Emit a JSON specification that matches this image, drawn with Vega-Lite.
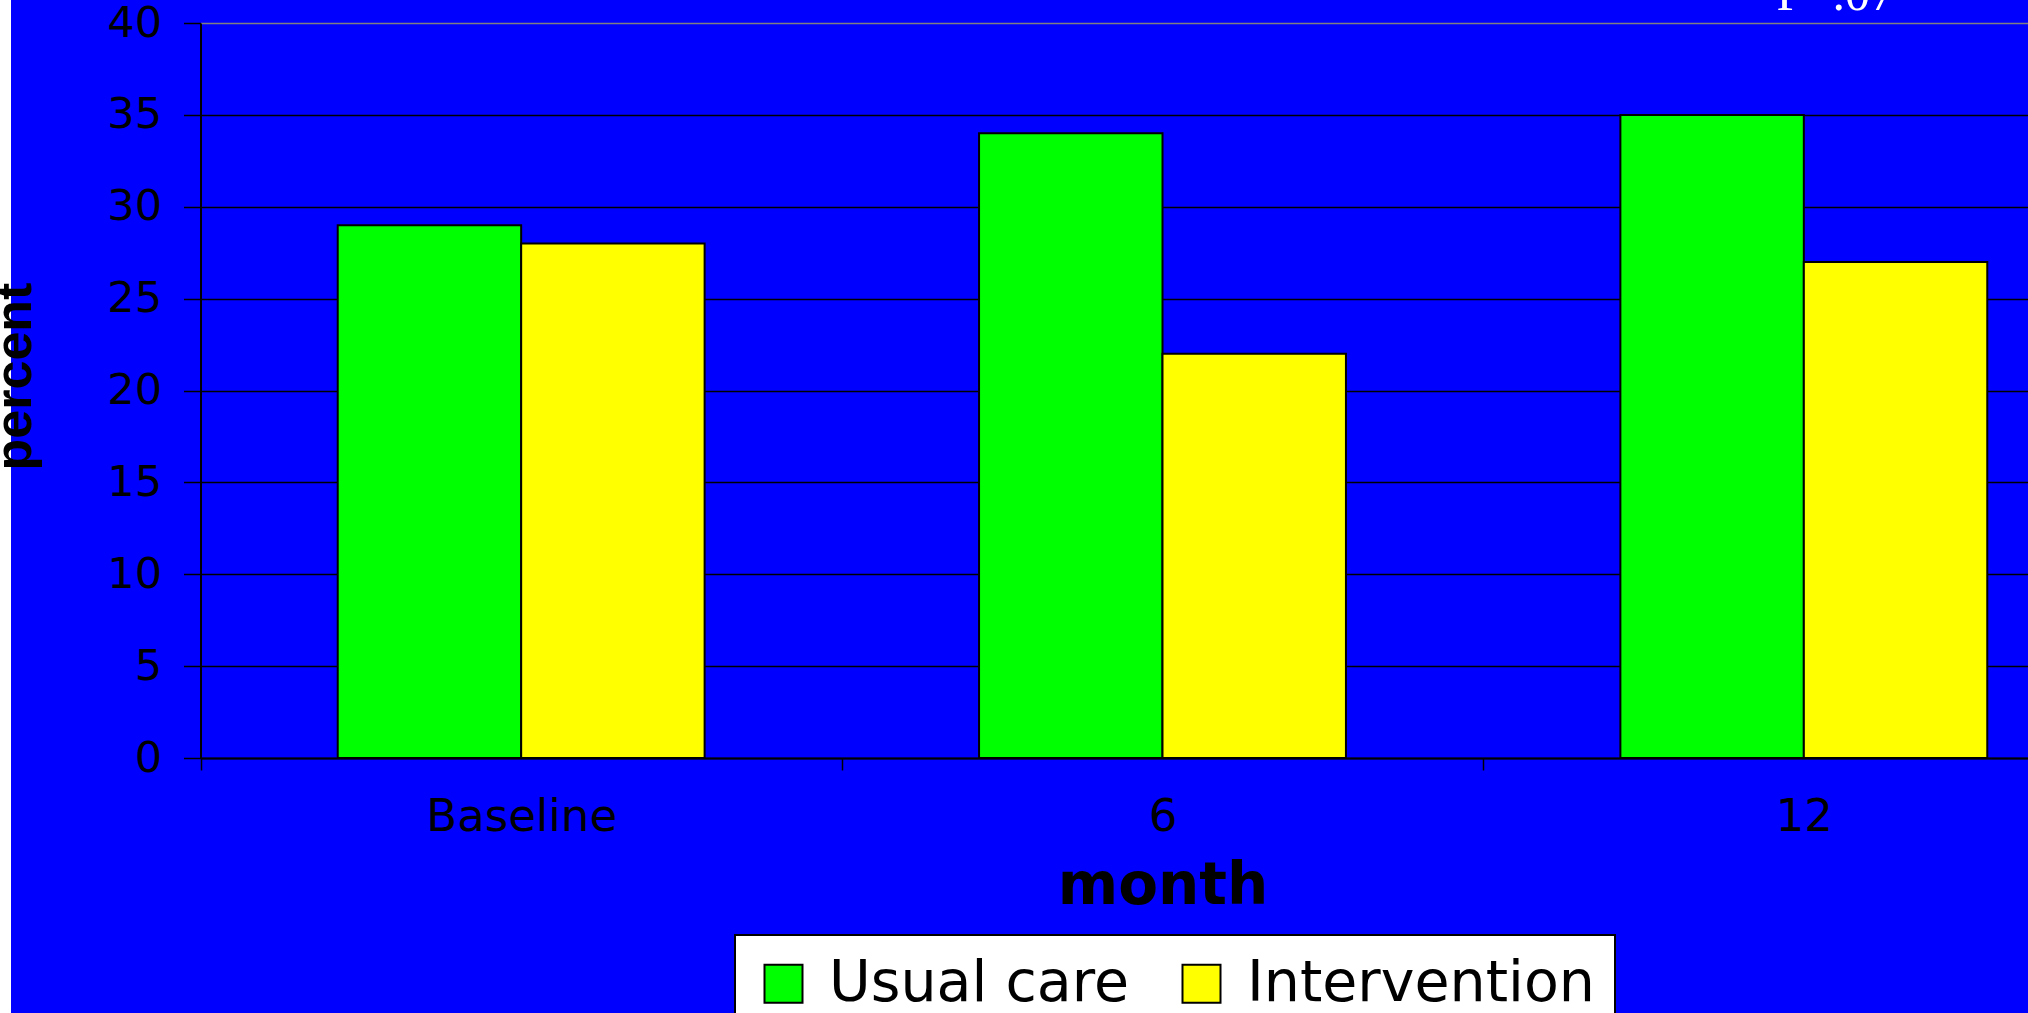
{
  "$schema": "https://vega.github.io/schema/vega-lite/v6.json",
  "autosize": {"type": "none"},
  "padding": {"left": 11, "top": 0, "right": 0, "bottom": 0},
  "width": 2017,
  "height": 1013,
  "background": "white",
  "title": {
    "text": "P=.07",
    "anchor": "end",
    "frame": "group",
    "orient": "top",
    "baseline": "alphabetic",
    "offset": -60,
    "dx": -133,
    "font": "Liberation Serif",
    "fontSize": 50,
    "fontWeight": "normal",
    "color": "white"
  },
  "data": {
    "values": [
      {"month": "Baseline", "group": "Usual care", "value": 29},
      {"month": "Baseline", "group": "Intervention", "value": 28},
      {"month": "6", "group": "Usual care", "value": 34},
      {"month": "6", "group": "Intervention", "value": 22},
      {"month": "12", "group": "Usual care", "value": 35},
      {"month": "12", "group": "Intervention", "value": 27}
    ]
  },
  "mark": {"type": "bar", "stroke": "black", "strokeWidth": 2, "opacity": 1},
  "encoding": {
    "x": {
      "field": "month",
      "type": "nominal",
      "sort": ["Baseline", "6", "12"],
      "scale": {"range": [189.5, 2113.5], "paddingInner": 0, "paddingOuter": 0},
      "axis": {
        "orient": "bottom",
        "offset": -255,
        "title": "month",
        "titleFont": "DejaVu Sans",
        "titleFontSize": 58,
        "titleFontWeight": "bold",
        "titleColor": "black",
        "titleBaseline": "alphabetic",
        "titleY": 145,
        "titleLimit": 2000,
        "labelAngle": 0,
        "labelFont": "DejaVu Sans",
        "labelFontSize": 45,
        "labelColor": "black",
        "labelBaseline": "alphabetic",
        "labelAlign": "center",
        "labelPadding": 60,
        "labelLimit": 1000,
        "tickBand": "extent",
        "tickSize": 12,
        "tickColor": "black",
        "tickWidth": 1.5,
        "domainColor": "black",
        "domainWidth": 2,
        "grid": false
      }
    },
    "xOffset": {
      "field": "group",
      "sort": ["Usual care", "Intervention"],
      "scale": {"paddingInner": 0, "paddingOuter": 0.748}
    },
    "y": {
      "field": "value",
      "type": "quantitative",
      "scale": {"domain": [0, 40], "range": [758, 23], "nice": false, "zero": true},
      "axis": {
        "orient": "left",
        "offset": -189.5,
        "values": [0, 5, 10, 15, 20, 25, 30, 35, 40],
        "title": "percent",
        "titleFont": "Liberation Sans",
        "titleFontSize": 52,
        "titleFontWeight": "bold",
        "titleColor": "black",
        "titleAngle": 270,
        "titleAlign": "center",
        "titleBaseline": "alphabetic",
        "titleX": -170.5,
        "titleY": 376,
        "titleLimit": 2000,
        "labelFont": "DejaVu Sans",
        "labelFontSize": 43,
        "labelColor": "black",
        "labelPadding": 22,
        "labelBaseline": "middle",
        "tickSize": 17,
        "tickColor": "black",
        "tickWidth": 1.5,
        "domainColor": "black",
        "domainWidth": 2,
        "grid": true,
        "gridColor": {"condition": {"test": "datum.value == 40", "value": "#808080"}, "value": "black"},
        "gridWidth": 1.5,
        "gridOpacity": 1
      }
    },
    "color": {
      "field": "group",
      "type": "nominal",
      "sort": ["Usual care", "Intervention"],
      "scale": {"domain": ["Usual care", "Intervention"], "range": ["#00FF00", "#FFFF00"]},
      "legend": {
        "title": null,
        "orient": "none",
        "legendX": 724,
        "legendY": 935,
        "direction": "horizontal",
        "fillColor": "white",
        "strokeColor": "black",
        "padding": 20,
        "cornerRadius": 0,
        "symbolType": "square",
        "symbolSize": 1444,
        "symbolStrokeColor": "black",
        "symbolStrokeWidth": 2,
        "symbolOpacity": 1,
        "labelFont": "DejaVu Sans",
        "labelFontSize": 57,
        "labelColor": "black",
        "labelOffset": 17,
        "labelLimit": 1000,
        "columnPadding": 44,
        "encode": {"legend": {"update": {"strokeWidth": {"value": 2}}}}
      }
    }
  },
  "config": {
    "view": {"fill": "#0000FF", "stroke": null}
  }
}
